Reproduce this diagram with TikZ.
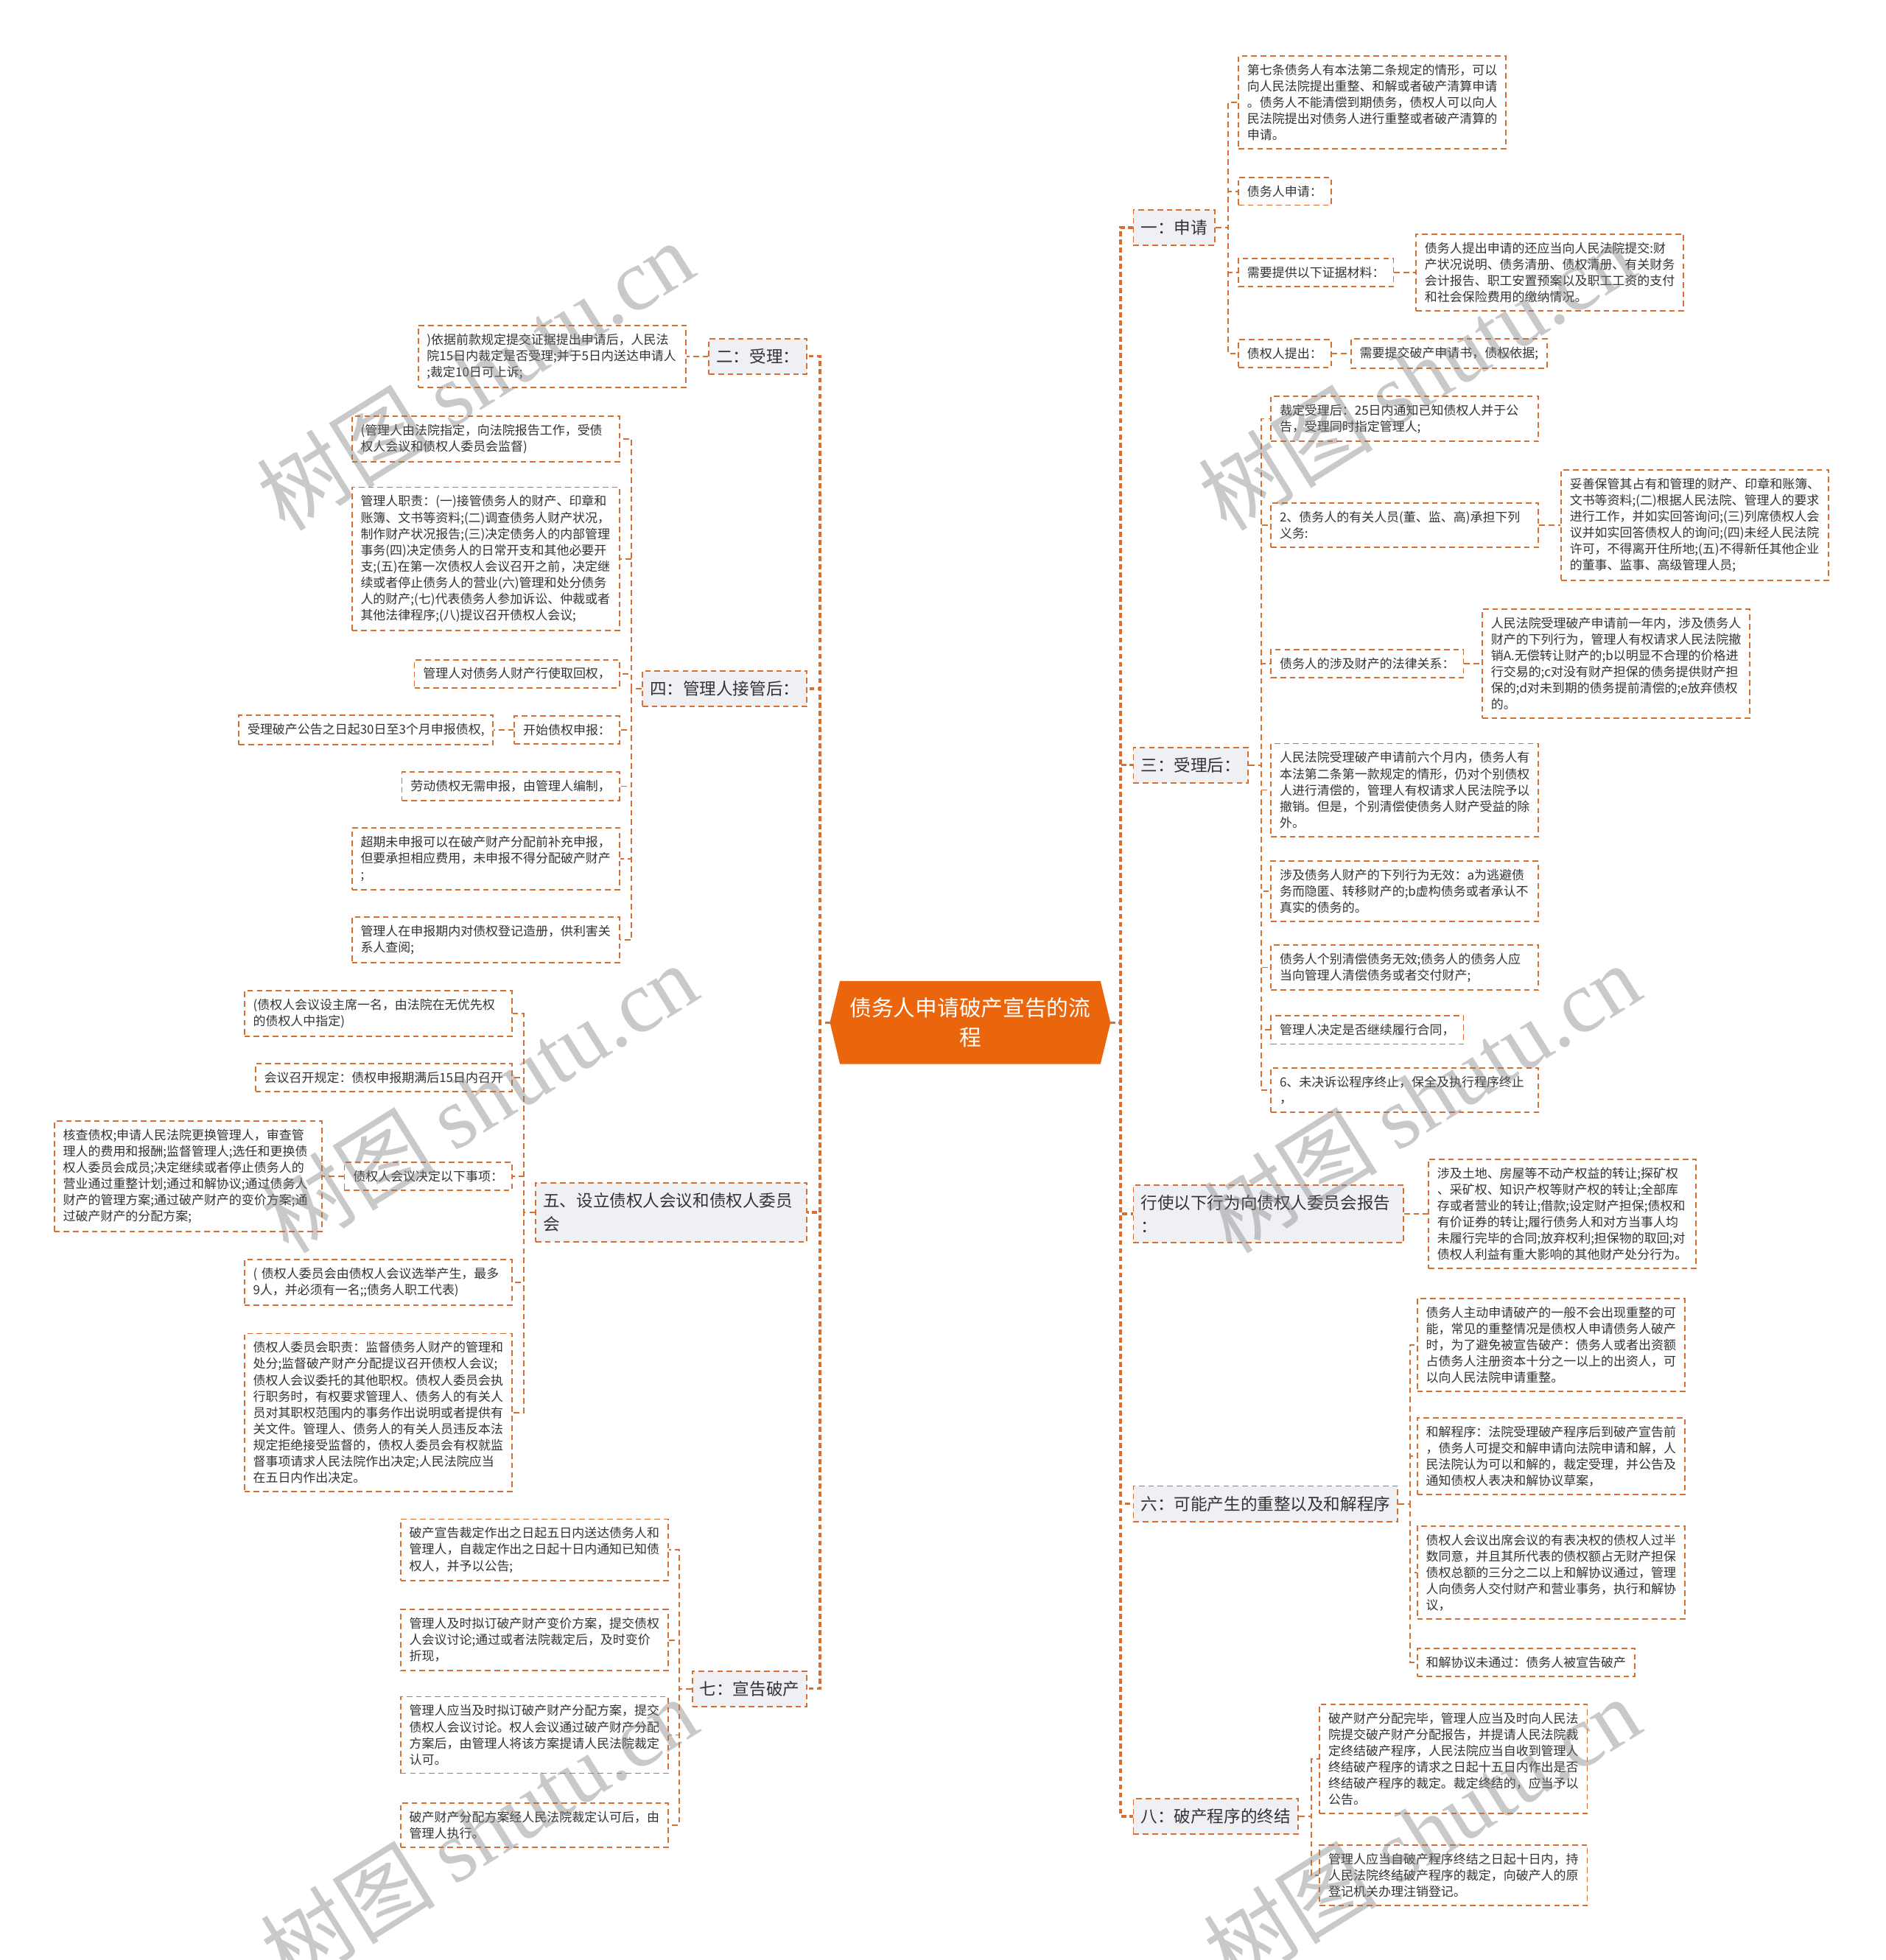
\documentclass[tikz,border=0pt]{standalone}
\usepackage{fontspec}
\setmainfont{Noto Sans CJK SC}
\newfontfamily\wmserif{Liberation Serif}
\usetikzlibrary{backgrounds}
\definecolor{lineor}{RGB}{214,112,48}
\definecolor{boxgray}{RGB}{238,240,244}
\definecolor{txt}{RGB}{51,51,51}
\definecolor{rootor}{RGB}{234,101,12}
\begin{document}
\begin{tikzpicture}[x=1pt,y=-1pt,
  bdash/.style={draw=lineor, line width=1.1pt, dash pattern=on 4.5pt off 3pt},
  leaf/.style={bdash, fill=white, text=txt, font=\fontsize{10}{13}\selectfont, inner xsep=7pt, inner ysep=6.5pt, align=left},
  lw/.style={leaf, text width=200pt},
  lvl/.style={bdash, fill=boxgray, text=txt, font=\fontsize{13.3}{19}\selectfont, inner xsep=6pt, inner ysep=8pt, align=left},
  conn/.style={draw=lineor, line width=1.1pt, dash pattern=on 4.5pt off 3pt},
  trunk/.style={draw=lineor, line width=2pt, dash pattern=on 4pt off 2.5pt},
  wm/.style={text=black!50, opacity=0.42, rotate=32, font=\fontsize{70}{70}\selectfont}
]
\useasboundingbox (0,0) rectangle (1508,1568);

% root
\node[font=\fontsize{17.5}{24}\selectfont, text=white, align=center, minimum width=224pt, minimum height=66pt, inner sep=0pt] (c) at (776,818) {债务人申请破产宣告的流\\程};

% ---------- right side ----------
\node[lvl, anchor=west] (r1) at (906,182) {一：申请};
\node[lw, anchor=west] (r1a) at (990,82) {第七条债务人有本法第二条规定的情形，可以\\向人民法院提出重整、和解或者破产清算申请\\。债务人不能清偿到期债务，债权人可以向人\\民法院提出对债务人进行重整或者破产清算的\\申请。};
\node[leaf, anchor=west] (r1b) at (990,153) {债务人申请：};
\node[leaf, anchor=west] (r1c) at (990,218) {需要提供以下证据材料：};
\node[lw, anchor=west] (r1c1) at (1132,218) {债务人提出申请的还应当向人民法院提交:财\\产状况说明、债务清册、债权清册、有关财务\\会计报告、职工安置预案以及职工工资的支付\\和社会保险费用的缴纳情况。};
\node[leaf, anchor=west] (r1d) at (990,283) {债权人提出：};
\node[leaf, anchor=west] (r1d1) at (1080,283) {需要提交破产申请书，债权依据;};

\node[lvl, anchor=west] (r2) at (906,612) {三：受理后：};
\node[lw, anchor=west] (r2a) at (1016,335) {裁定受理后：25日内通知已知债权人并于公\\告，受理同时指定管理人;};
\node[lw, anchor=west] (r2b) at (1016,420) {2、债务人的有关人员(董、监、高)承担下列\\义务:};
\node[lw, anchor=west] (r2b1) at (1248,420) {妥善保管其占有和管理的财产、印章和账簿、\\文书等资料;(二)根据人民法院、管理人的要求\\进行工作，并如实回答询问;(三)列席债权人会\\议并如实回答债权人的询问;(四)未经人民法院\\许可，不得离开住所地;(五)不得新任其他企业\\的董事、监事、高级管理人员;};
\node[leaf, anchor=west] (r2c) at (1016,531) {债务人的涉及财产的法律关系：};
\node[lw, anchor=west] (r2c1) at (1185,531) {人民法院受理破产申请前一年内，涉及债务人\\财产的下列行为，管理人有权请求人民法院撤\\销A.无偿转让财产的;b以明显不合理的价格进\\行交易的;c对没有财产担保的债务提供财产担\\保的;d对未到期的债务提前清偿的;e放弃债权\\的。};
\node[lw, anchor=west] (r2d) at (1016,632) {人民法院受理破产申请前六个月内，债务人有\\本法第二条第一款规定的情形，仍对个别债权\\人进行清偿的，管理人有权请求人民法院予以\\撤销。但是，个别清偿使债务人财产受益的除\\外。};
\node[lw, anchor=west] (r2e) at (1016,713) {涉及债务人财产的下列行为无效：a为逃避债\\务而隐匿、转移财产的;b虚构债务或者承认不\\真实的债务的。};
\node[lw, anchor=west] (r2f) at (1016,774) {债务人个别清偿债务无效;债务人的债务人应\\当向管理人清偿债务或者交付财产;};
\node[leaf, anchor=west] (r2g) at (1016,824) {管理人决定是否继续履行合同，};
\node[lw, anchor=west] (r2h) at (1016,872) {6、未决诉讼程序终止，保全及执行程序终止\\，};

\node[lvl, anchor=west, text width=204pt] (r3) at (906,971) {行使以下行为向债权人委员会报告\\：};
\node[lw, anchor=west] (r3a) at (1142,971) {涉及土地、房屋等不动产权益的转让;探矿权\\、采矿权、知识产权等财产权的转让;全部库\\存或者营业的转让;借款;设定财产担保;债权和\\有价证券的转让;履行债务人和对方当事人均\\未履行完毕的合同;放弃权利;担保物的取回;对\\债权人利益有重大影响的其他财产处分行为。};

\node[lvl, anchor=west] (r4) at (906,1203) {六：可能产生的重整以及和解程序};
\node[lw, anchor=west] (r4a) at (1133,1076) {债务人主动申请破产的一般不会出现重整的可\\能，常见的重整情况是债权人申请债务人破产\\时，为了避免被宣告破产：债务人或者出资额\\占债务人注册资本十分之一以上的出资人，可\\以向人民法院申请重整。};
\node[lw, anchor=west] (r4b) at (1133,1165) {和解程序：法院受理破产程序后到破产宣告前\\，债务人可提交和解申请向法院申请和解，人\\民法院认为可以和解的，裁定受理，并公告及\\通知债权人表决和解协议草案，};
\node[lw, anchor=west] (r4c) at (1133,1258) {债权人会议出席会议的有表决权的债权人过半\\数同意，并且其所代表的债权额占无财产担保\\债权总额的三分之二以上和解协议通过，管理\\人向债务人交付财产和营业事务，执行和解协\\议，};
\node[leaf, anchor=west] (r4d) at (1133,1330) {和解协议未通过：债务人被宣告破产};

\node[lvl, anchor=west] (r5) at (906,1453) {八：破产程序的终结};
\node[lw, anchor=west] (r5a) at (1055,1407) {破产财产分配完毕，管理人应当及时向人民法\\院提交破产财产分配报告，并提请人民法院裁\\定终结破产程序，人民法院应当自收到管理人\\终结破产程序的请求之日起十五日内作出是否\\终结破产程序的裁定。裁定终结的，应当予以\\公告。};
\node[lw, anchor=west] (r5b) at (1055,1500) {管理人应当自破产程序终结之日起十日内，持\\人民法院终结破产程序的裁定，向破产人的原\\登记机关办理注销登记。};

% ---------- left side ----------
\node[lvl, anchor=east] (l1) at (646,285) {二：受理：};
\node[lw, anchor=east] (l1a) at (549,285) {)依据前款规定提交证据提出申请后，人民法\\院15日内裁定是否受理;并于5日内送达申请人\\;裁定10日可上诉;};

\node[lvl, anchor=east] (l2) at (646,551) {四：管理人接管后：};
\node[lw, anchor=east] (l2a) at (496,351) {(管理人由法院指定，向法院报告工作，受债\\权人会议和债权人委员会监督)};
\node[lw, anchor=east] (l2b) at (496,447) {管理人职责：(一)接管债务人的财产、印章和\\账簿、文书等资料;(二)调查债务人财产状况，\\制作财产状况报告;(三)决定债务人的内部管理\\事务(四)决定债务人的日常开支和其他必要开\\支;(五)在第一次债权人会议召开之前，决定继\\续或者停止债务人的营业(六)管理和处分债务\\人的财产;(七)代表债务人参加诉讼、仲裁或者\\其他法律程序;(八)提议召开债权人会议;};
\node[leaf, anchor=east] (l2c) at (496,539) {管理人对债务人财产行使取回权，};
\node[leaf, anchor=east] (l2d) at (496,584) {开始债权申报：};
\node[leaf, anchor=east] (l2d1) at (395,584) {受理破产公告之日起30日至3个月申报债权,};
\node[leaf, anchor=east] (l2e) at (496,629) {劳动债权无需申报，由管理人编制，};
\node[lw, anchor=east] (l2f) at (496,687) {超期未申报可以在破产财产分配前补充申报，\\但要承担相应费用，未申报不得分配破产财产\\;};
\node[lw, anchor=east] (l2g) at (496,752) {管理人在申报期内对债权登记造册，供利害关\\系人查阅;};

\node[lvl, anchor=east, text width=205pt] (l3) at (646,970) {五、设立债权人会议和债权人委员\\会};
\node[lw, anchor=east] (l3a) at (410,811) {(债权人会议设主席一名，由法院在无优先权\\的债权人中指定)};
\node[leaf, anchor=east] (l3b) at (410,862) {会议召开规定：债权申报期满后15日内召开};
\node[leaf, anchor=east] (l3c) at (410,941) {债权人会议决定以下事项：};
\node[lw, anchor=east] (l3c1) at (258,941) {核查债权;申请人民法院更换管理人，审查管\\理人的费用和报酬;监督管理人;选任和更换债\\权人委员会成员;决定继续或者停止债务人的\\营业通过重整计划;通过和解协议;通过债务人\\财产的管理方案;通过破产财产的变价方案;通\\过破产财产的分配方案;};
\node[lw, anchor=east] (l3d) at (410,1026) {( 债权人委员会由债权人会议选举产生，最多\\9人，并必须有一名;;债务人职工代表)};
\node[lw, anchor=east] (l3e) at (410,1130) {债权人委员会职责：监督债务人财产的管理和\\处分;监督破产财产分配提议召开债权人会议;\\债权人会议委托的其他职权。债权人委员会执\\行职务时，有权要求管理人、债务人的有关人\\员对其职权范围内的事务作出说明或者提供有\\关文件。管理人、债务人的有关人员违反本法\\规定拒绝接受监督的，债权人委员会有权就监\\督事项请求人民法院作出决定;人民法院应当\\在五日内作出决定。};

\node[lvl, anchor=east] (l4) at (646,1351) {七：宣告破产};
\node[lw, anchor=east] (l4a) at (535,1240) {破产宣告裁定作出之日起五日内送达债务人和\\管理人，自裁定作出之日起十日内通知已知债\\权人，并予以公告;};
\node[lw, anchor=east] (l4b) at (535,1312) {管理人及时拟订破产财产变价方案，提交债权\\人会议讨论;通过或者法院裁定后，及时变价\\折现，};
\node[lw, anchor=east] (l4c) at (535,1388) {管理人应当及时拟订破产财产分配方案，提交\\债权人会议讨论。权人会议通过破产财产分配\\方案后，由管理人将该方案提请人民法院裁定\\认可。};
\node[lw, anchor=east] (l4d) at (535,1460) {破产财产分配方案经人民法院裁定认可后，由\\管理人执行。};

% ---------- background: page and root shape ----------
\begin{scope}[on background layer]
\fill[white] (0,0) rectangle (1508,1568);
\fill[rootor] ([xshift=8pt]c.north west) -- ([xshift=-8pt]c.north east) -- (c.east) -- ([xshift=-8pt]c.south east) -- ([xshift=8pt]c.south west) -- (c.west) -- cycle;
% trunks from root
\foreach \n in {r1,r2,r3,r4,r5} \draw[trunk] (c.east) -- ++(8,0) |- (\n.west);
\foreach \n in {l1,l2,l3,l4} \draw[trunk] (c.west) -- ++(-8,0) |- (\n.east);
% right sub connectors
\foreach \n in {r1a,r1b,r1c,r1d} \draw[conn] (r1.east) -- ++(10,0) |- (\n.west);
\draw[conn] (r1c.east) -- (r1c1.west);
\draw[conn] (r1d.east) -- (r1d1.west);
\foreach \n in {r2a,r2b,r2c,r2d,r2e,r2f,r2g,r2h} \draw[conn] (r2.east) -- ++(10,0) |- (\n.west);
\draw[conn] (r2b.east) -- (r2b1.west);
\draw[conn] (r2c.east) -- (r2c1.west);
\draw[conn] (r3.east) -- (r3a.west);
\foreach \n in {r4a,r4b,r4c,r4d} \draw[conn] (r4.east) -- ++(9,0) |- (\n.west);
\foreach \n in {r5a,r5b} \draw[conn] (r5.east) -- ++(10,0) |- (\n.west);
% left sub connectors
\draw[conn] (l1.west) -- (l1a.east);
\foreach \n in {l2a,l2b,l2c,l2d,l2e,l2f,l2g} \draw[conn] (l2.west) -- ++(-8,0) |- (\n.east);
\draw[conn] (l2d.west) -- (l2d1.east);
\foreach \n in {l3a,l3b,l3c,l3d,l3e} \draw[conn] (l3.west) -- ++(-9,0) |- (\n.east);
\draw[conn] (l3c.west) -- (l3c1.east);
\foreach \n in {l4a,l4b,l4c,l4d} \draw[conn] (l4.west) -- ++(-10,0) |- (\n.east);
\end{scope}

% ---------- watermarks ----------
\node[wm] (w1) at (380,300) {树图 {\wmserif shutu.cn}};
\node[wm] (w2) at (1133,300) {树图 {\wmserif shutu.cn}};
\node[wm] (w3) at (383,878) {树图 {\wmserif shutu.cn}};
\node[wm] (w4) at (1137,878) {树图 {\wmserif shutu.cn}};
\node[wm] (w5) at (383,1465) {树图 {\wmserif shutu.cn}};
\node[wm] (w6) at (1137,1465) {树图 {\wmserif shutu.cn}};
\end{tikzpicture}
\end{document}
